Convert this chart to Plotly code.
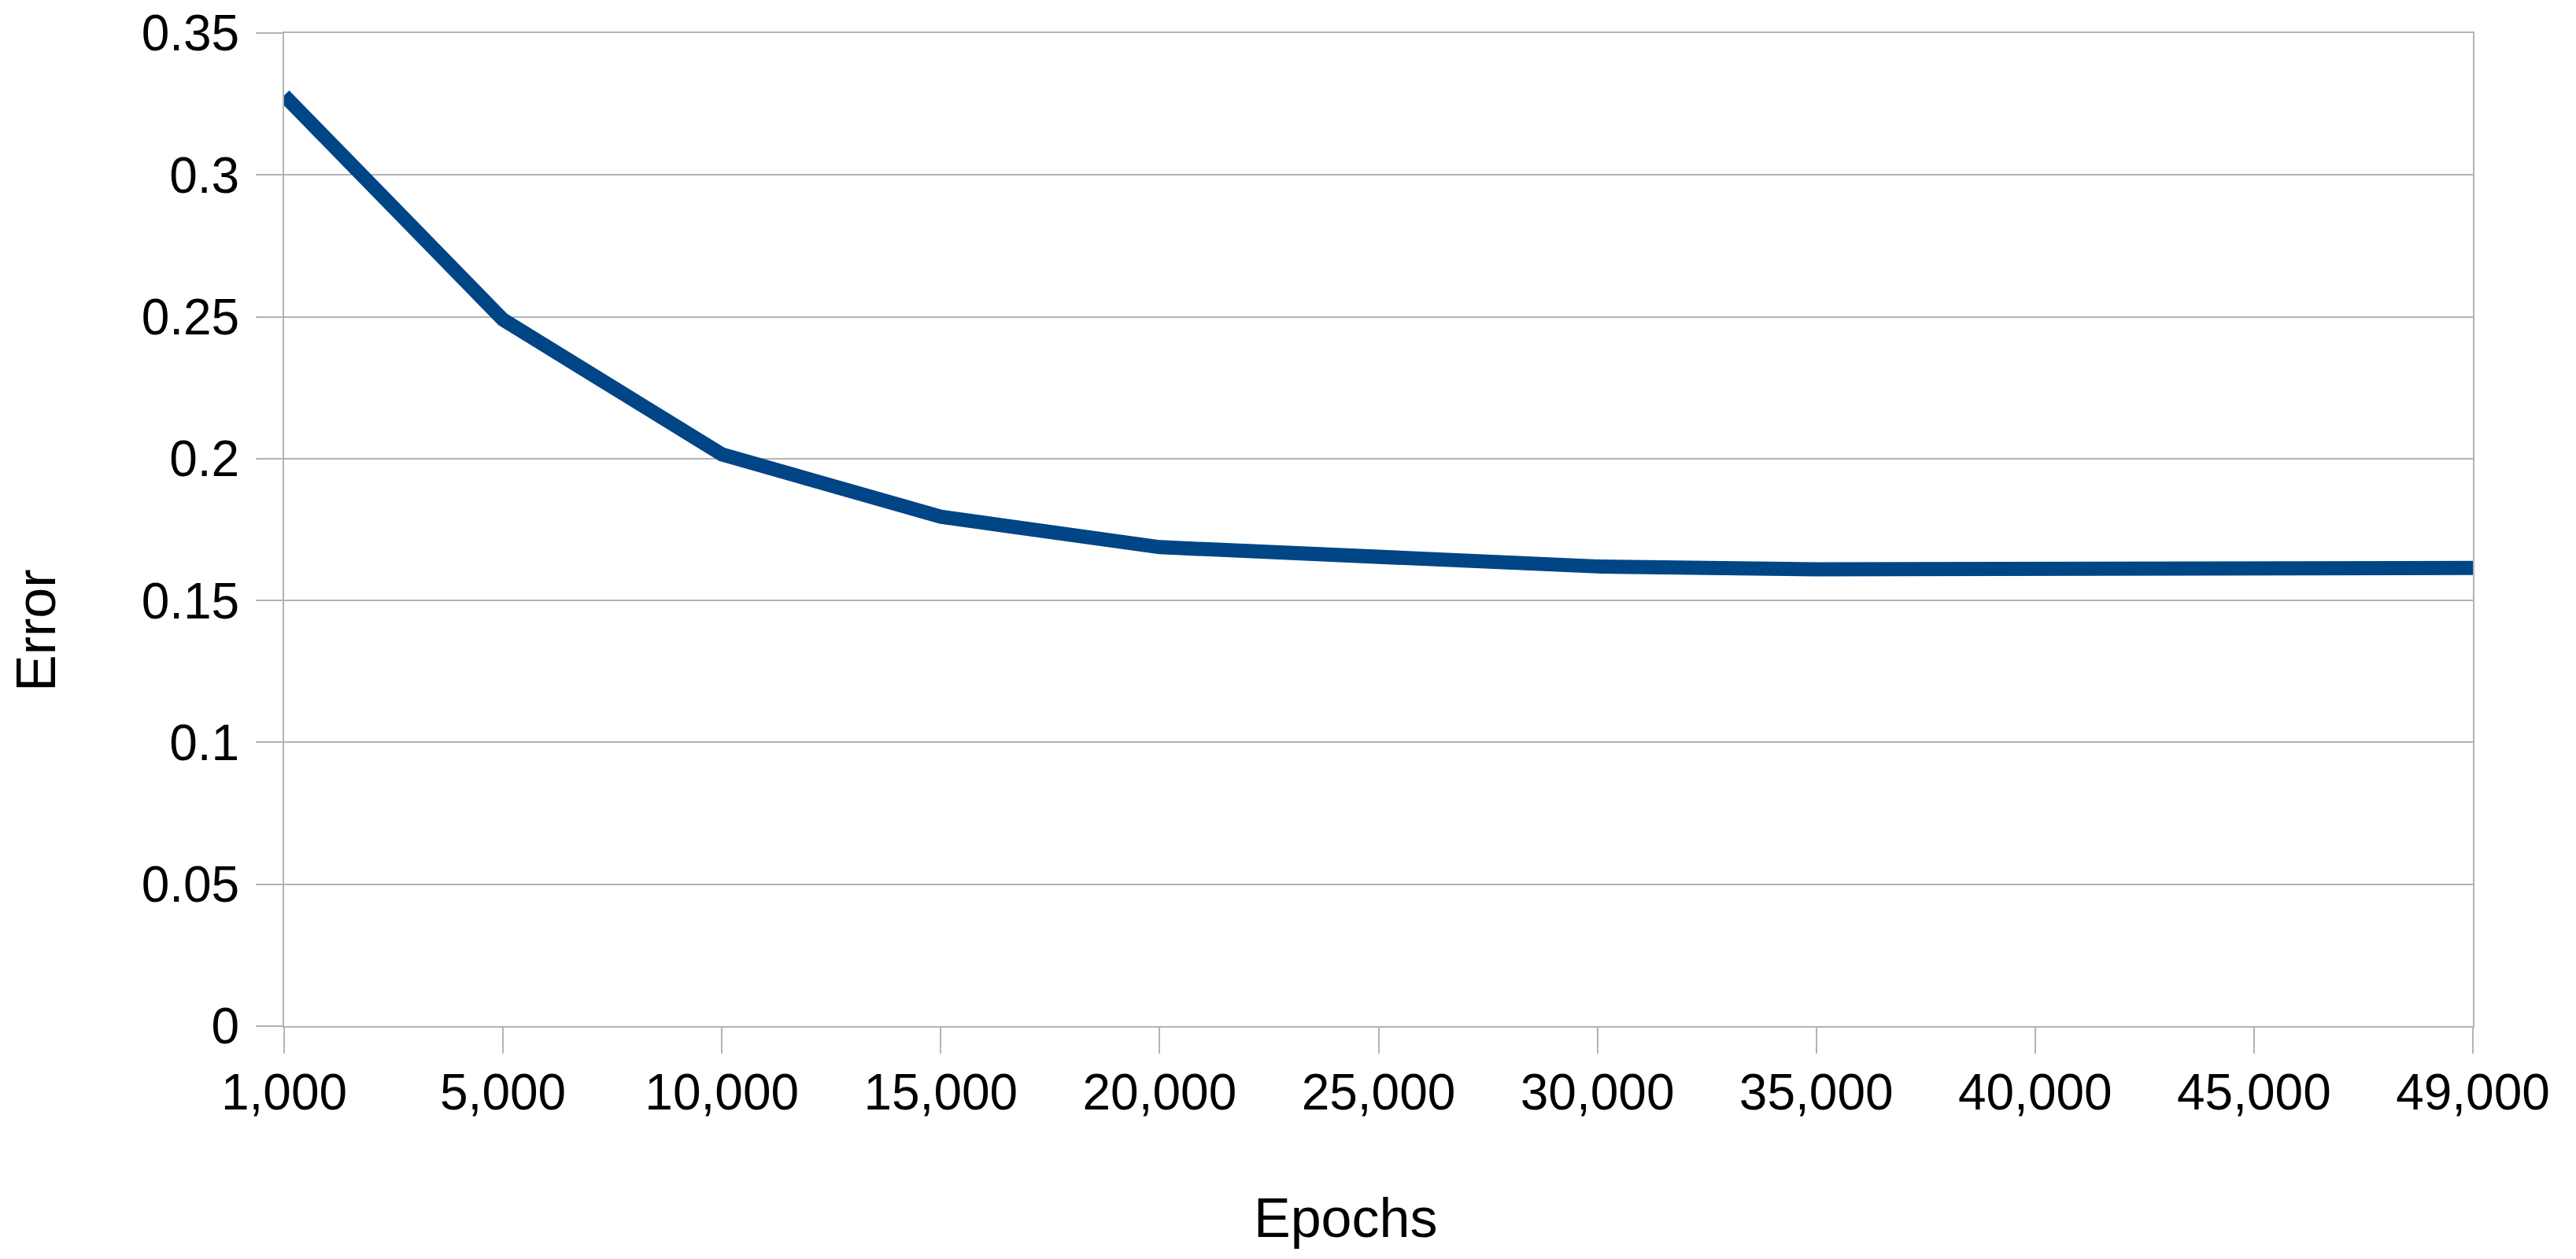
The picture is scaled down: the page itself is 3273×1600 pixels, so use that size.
import plotly.graph_objects as go

epochs = ["1,000", "5,000", "10,000", "15,000", "20,000", "25,000",
          "30,000", "35,000", "40,000", "45,000", "49,000"]
error = [0.328, 0.249, 0.2015, 0.1795, 0.1688, 0.1648,
         0.1620, 0.1610, 0.1608, 0.1615, 0.1615]

y_ticks = [0, 0.05, 0.1, 0.15, 0.2, 0.25, 0.3, 0.35]
y_tick_text = ["0", "0.05", "0.1", "0.15", "0.2", "0.25", "0.3", "0.35"]

W, H = 3273, 1600
L, T = 361, 42
R = W - 3142
B = H - 1304
pw, ph = W - L - R, H - T - B

FONT = "Liberation Sans, Arial, sans-serif"
GRID = "#b3b3b3"

fig = go.Figure()
fig.add_trace(go.Scatter(
    x=epochs, y=error, mode="lines",
    line=dict(color="#004586", width=18),
    showlegend=False,
))

fig.update_layout(
    width=W, height=H,
    margin=dict(l=L, r=R, t=T, b=B, pad=0, autoexpand=False),
    paper_bgcolor="white", plot_bgcolor="white",
    font=dict(family=FONT, size=64, color="black"),
    showlegend=False,
)

fig.update_xaxes(
    type="category", range=[0, len(epochs) - 1], automargin=False,
    showgrid=False, zeroline=False,
    showline=True, linecolor=GRID, linewidth=2, mirror=True,
    ticks="outside", ticklen=33, tickwidth=2, tickcolor=GRID,
    tickfont=dict(family=FONT, size=64, color="black"),
    ticklabelstandoff=-6, ticklabeloverflow="allow",
)
fig.update_yaxes(
    range=[0, 0.35], tickvals=y_ticks, ticktext=y_tick_text, automargin=False,
    showgrid=True, gridcolor=GRID, gridwidth=2, zeroline=False,
    showline=True, linecolor=GRID, linewidth=2, mirror=True,
    ticks="outside", ticklen=34, tickwidth=2, tickcolor=GRID,
    tickfont=dict(family=FONT, size=64, color="black"),
    ticklabelstandoff=8, ticklabeloverflow="allow",
)

def px_to_paper_x(px):
    return (px - L) / pw

def px_to_paper_y(py):
    return (H - B - py) / ph

fig.add_annotation(
    text="Epochs", showarrow=False, xref="paper", yref="paper",
    x=px_to_paper_x(1709), y=px_to_paper_y(1548),
    xanchor="center", yanchor="middle",
    font=dict(family=FONT, size=70, color="black"),
)
fig.add_annotation(
    text="Error", showarrow=False, xref="paper", yref="paper",
    x=px_to_paper_x(46), y=px_to_paper_y(801),
    xanchor="center", yanchor="middle", textangle=-90,
    font=dict(family=FONT, size=70, color="black"),
)

fig.write_html(
    "out.html",
    config={"displayModeBar": False},
    post_script="document.body.style.margin='0';document.body.style.overflow='hidden';",
)
